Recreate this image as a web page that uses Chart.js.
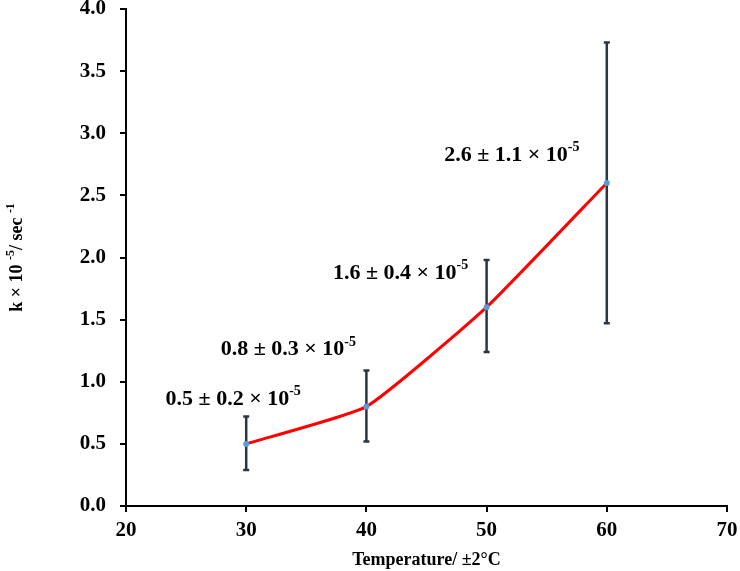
<!DOCTYPE html>
<html>
<head>
<meta charset="utf-8">
<script src="https://cdn.jsdelivr.net/npm/chart.js@4"></script>
<style>
  html, body { margin: 0; padding: 0; background: #fff; }
  #wrap { width: 740px; height: 571px; }
</style>
</head>
<body>
<div id="wrap"><canvas id="chart" width="740" height="571"></canvas></div>
<script>
// Data
const temps = [30, 40, 50, 60];
const rates = [0.5, 0.8, 1.6, 2.6];
const errLow = [0.29, 0.52, 1.24, 1.47];
const errHigh = [0.72, 1.09, 1.98, 3.73];
const pointLabels = ['0.5 ± 0.2 × 10', '0.8 ± 0.3 × 10', '1.6 ± 0.4 × 10', '2.6 ± 1.1 × 10'];
const xTicks = [20, 30, 40, 50, 60, 70];
const yTicks = [0, 0.5, 1, 1.5, 2, 2.5, 3, 3.5, 4];

// label placement (pixels from the point)
const labelOffsets = [[-13, -45], [-78, -57], [-86, -34], [-95, -28]];

const SERIF = '"Liberation Serif", "Times New Roman", serif';

// draws text with a trailing superscript, centred on x
function drawSupText(ctx, base, sup, x, y, size) {
    ctx.font = `bold ${size}px ${SERIF}`;
    const w1 = ctx.measureText(base).width;
    const supSize = Math.round(size * 0.62);
    ctx.font = `bold ${supSize}px ${SERIF}`;
    const w2 = ctx.measureText(sup).width;
    let left = x - (w1 + w2) / 2;
    ctx.textAlign = 'left';
    ctx.textBaseline = 'middle';
    ctx.font = `bold ${size}px ${SERIF}`;
    ctx.fillText(base, left, y);
    ctx.font = `bold ${supSize}px ${SERIF}`;
    ctx.fillText(sup, left + w1, y - size * 0.35);
}

const extras = {
    id: 'extras',
    beforeDatasetsDraw(chart) {
        const ctx = chart.ctx;
        const xs = chart.scales.x, ys = chart.scales.y;
        ctx.save();
        // error bars
        ctx.strokeStyle = '#2b3645';
        ctx.lineWidth = 2.5;
        temps.forEach((t, i) => {
            const px = xs.getPixelForValue(t);
            const top = ys.getPixelForValue(errHigh[i]);
            const bot = ys.getPixelForValue(errLow[i]);
            ctx.beginPath();
            ctx.moveTo(px, top); ctx.lineTo(px, bot);
            ctx.moveTo(px - 3, top); ctx.lineTo(px + 3, top);
            ctx.moveTo(px - 3, bot); ctx.lineTo(px + 3, bot);
            ctx.stroke();
        });
        ctx.restore();
    },
    afterDraw(chart) {
        const ctx = chart.ctx;
        const xs = chart.scales.x, ys = chart.scales.y;
        ctx.save();
        ctx.fillStyle = '#000';
        temps.forEach((t, i) => {
            const px = xs.getPixelForValue(t) + labelOffsets[i][0];
            const py = ys.getPixelForValue(rates[i]) + labelOffsets[i][1];
            drawSupText(ctx, pointLabels[i], '-5', px, py, 22);
        });
        // y axis title with superscripts
        ctx.translate(17, (chart.chartArea.top + chart.chartArea.bottom) / 2);
        ctx.rotate(-Math.PI / 2);
        const size = 18, supSize = 12;
        const parts = [['k × 10 ', false], ['-5', true], ['/ sec ', false], ['-1', true]];
        let total = 0;
        parts.forEach(p => {
            ctx.font = `bold ${p[1] ? supSize : size}px ${SERIF}`;
            total += ctx.measureText(p[0]).width;
        });
        let cx = -total / 2;
        ctx.textAlign = 'left';
        ctx.textBaseline = 'middle';
        parts.forEach(p => {
            ctx.font = `bold ${p[1] ? supSize : size}px ${SERIF}`;
            ctx.fillText(p[0], cx, p[1] ? -6 : 0);
            cx += ctx.measureText(p[0]).width;
        });
        ctx.restore();
    }
};

new Chart(document.getElementById('chart'), {
    type: 'line',
    data: {
        datasets: [{
            data: temps.map((t, i) => ({ x: t, y: rates[i] })),
            borderColor: '#ff0000',
            borderWidth: 3,
            tension: 0.14,
            pointRadius: 3,
            pointBackgroundColor: '#5b9bd5',
            pointBorderColor: '#5b9bd5',
            pointBorderWidth: 0
        }]
    },
    plugins: [extras],
    options: {
        responsive: false,
        animation: false,
        layout: { padding: { top: 9, right: 13, left: 0, bottom: 0 } },
        plugins: { legend: { display: false }, tooltip: { enabled: false } },
        scales: {
            x: {
                type: 'linear',
                min: 20, max: 70,
                afterBuildTicks: s => { s.ticks = xTicks.map(v => ({ value: v })); },
                afterFit: s => { s.height = 65; s.paddingLeft = 0; s.paddingRight = 0; },
                border: { display: true, color: '#000', width: 2 },
                grid: { drawOnChartArea: false, color: '#000', tickLength: 6, lineWidth: 2 },
                ticks: {
                    color: '#000', padding: 6,
                    font: { family: SERIF, size: 21, weight: 'bold' }
                },
                title: {
                    display: true, text: 'Temperature/ ±2°C', color: '#000',
                    font: { family: SERIF, size: 18, weight: 'bold' },
                    padding: { top: 4, bottom: 0 }
                }
            },
            y: {
                type: 'linear',
                min: 0, max: 4,
                afterBuildTicks: s => { s.ticks = yTicks.map(v => ({ value: v })); },
                afterFit: s => { s.width = 126; s.paddingTop = 0; s.paddingBottom = 0; },
                border: { display: true, color: '#000', width: 2 },
                grid: { drawOnChartArea: false, color: '#000', tickLength: 6, lineWidth: 2 },
                ticks: {
                    color: '#000', padding: 14,
                    callback: v => v.toFixed(1),
                    font: { family: SERIF, size: 21, weight: 'bold' }
                }
            }
        }
    }
});
</script>
</body>
</html>
